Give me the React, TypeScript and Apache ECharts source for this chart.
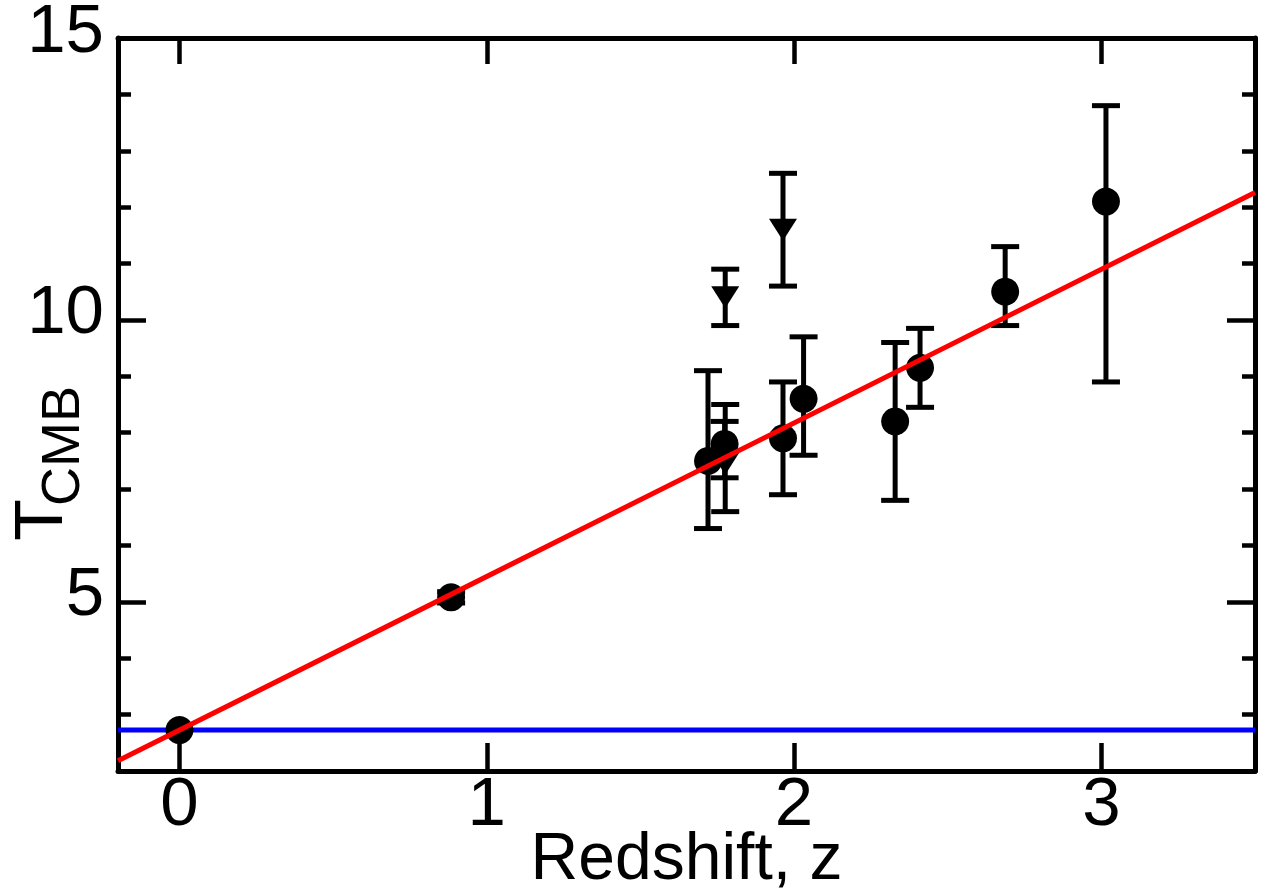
import React, { useEffect, useRef } from "react";
import * as echarts from "echarts";

// Circle points: redshift, temperature, +err, -err
const circZ = [0, 0.884, 1.72, 1.774, 1.964, 2.031, 2.329, 2.41, 2.687, 3.015];
const circT = [2.725, 5.08, 7.5, 7.8, 7.9, 8.6, 8.2, 9.15, 10.5, 12.1];
const circErrPlus = [0, 0.1, 1.6, 0.4, 1.0, 1.1, 1.4, 0.7, 0.8, 1.7];
const circErrMinus = [0, 0.1, 1.2, 0.6, 1.0, 1.0, 1.4, 0.7, 0.6, 3.2];

// Down-triangle points
const triZ = [1.776, 1.964, 1.776];
const triT = [10.4, 11.6, 7.45];
const triErrPlus = [0.5, 1.0, 1.05];
const triErrMinus = [0.5, 1.0, 0.85];

// Fit line T = T0 (1+z) endpoints, and present-day T_CMB
const fitZ = [-0.2, 3.5];
const fitT = [2.18, 12.26];
const cmbZ = [-0.2, 3.5];
const cmbT = [2.725, 2.725];

const xTicks = [0, 1, 2, 3];
const yMajor = [5, 10, 15];
const yMinor = [3, 4, 6, 7, 8, 9, 11, 12, 13, 14];

const FONT = "'Liberation Sans', Arial, sans-serif";

export default function App() {
  const ref = useRef<HTMLDivElement>(null);
  useEffect(() => {
    if (!ref.current) return;
    const chart = echarts.init(ref.current, undefined, { renderer: "svg" });

    const errData = [
      ...circZ.map((z, i) => [z, circT[i], circT[i] - circErrMinus[i], circT[i] + circErrPlus[i]]),
      ...triZ.map((z, i) => [z, triT[i], triT[i] - triErrMinus[i], triT[i] + triErrPlus[i]]),
    ].filter((d) => d[3] - d[2] > 0);

    const axisLine = { show: true, onZero: false, lineStyle: { color: "#000", width: 5 } };
    const majorTick = (len: number, vals: number[]) => ({
      show: true,
      inside: true,
      length: len,
      customValues: vals,
      lineStyle: { color: "#000", width: 4.5 },
    });

    const xBase = { type: "value", min: -0.2, max: 3.5, splitLine: { show: false } };
    const yBase = { type: "value", min: 2, max: 15, splitLine: { show: false } };

    chart.setOption({
      animation: false,
      grid: {
        left: 118,
        top: 38,
        right: 21,
        bottom: 123,
        containLabel: false,
        outerBoundsMode: "none",
      },
      xAxis: [
        {
          ...xBase,
          position: "bottom",
          axisLine,
          axisTick: majorTick(28, xTicks),
          axisLabel: {
            customValues: xTicks,
            color: "#000",
            fontSize: 69,
            fontFamily: FONT,
            margin: -4,
          },
          name: "Redshift, z",
          nameLocation: "middle",
          nameGap: 52,
          nameMoveOverlap: false,
          nameTextStyle: { color: "#000", fontSize: 66, fontFamily: FONT, verticalAlign: "top" },
        },
        {
          ...xBase,
          position: "top",
          axisLine,
          axisTick: majorTick(26, xTicks),
          axisLabel: { show: false },
        },
      ],
      yAxis: [
        {
          ...yBase,
          position: "left",
          axisLine,
          axisTick: majorTick(28, yMajor),
          axisLabel: {
            customValues: yMajor,
            color: "#000",
            fontSize: 69,
            fontFamily: FONT,
            margin: 14,
            verticalAlign: "bottom",
            lineHeight: 20,
          },
        },
        {
          ...yBase,
          position: "right",
          axisLine,
          axisTick: majorTick(28, yMajor),
          axisLabel: { show: false },
        },
        {
          ...yBase,
          position: "left",
          axisLine: { show: false, onZero: false },
          axisTick: majorTick(13, yMinor),
          axisLabel: { show: false },
        },
        {
          ...yBase,
          position: "right",
          axisLine: { show: false, onZero: false },
          axisTick: majorTick(13, yMinor),
          axisLabel: { show: false },
        },
      ],
      graphic: [
        {
          type: "text",
          x: 38,
          y: 520,
          rotation: Math.PI / 2,
          style: {
            text: "T",
            font: `68px ${FONT}`,
            fill: "#000",
            align: "center",
            verticalAlign: "middle",
          },
        },
        {
          type: "text",
          x: 60,
          y: 446,
          rotation: Math.PI / 2,
          style: {
            text: "CMB",
            font: `54px ${FONT}`,
            fill: "#000",
            align: "center",
            verticalAlign: "middle",
          },
        },
      ],
      series: [
        {
          type: "line",
          data: cmbZ.map((z, i) => [z, cmbT[i]]),
          showSymbol: false,
          symbol: "none",
          lineStyle: { color: "#0000ff", width: 5 },
          z: 1,
          silent: true,
        },
        {
          type: "custom",
          data: errData,
          encode: { x: 0, y: [1, 2, 3] },
          z: 2,
          silent: true,
          renderItem: (params: any, api: any) => {
            const x = api.value(0);
            const lo = api.value(2);
            const hi = api.value(3);
            const top = api.coord([x, hi]);
            const bot = api.coord([x, lo]);
            const hw = 14;
            const st = { stroke: "#000", lineWidth: 5 };
            return {
              type: "group",
              children: [
                { type: "line", shape: { x1: top[0], y1: top[1], x2: bot[0], y2: bot[1] }, style: st },
                { type: "line", shape: { x1: top[0] - hw, y1: top[1], x2: top[0] + hw, y2: top[1] }, style: st },
                { type: "line", shape: { x1: bot[0] - hw, y1: bot[1], x2: bot[0] + hw, y2: bot[1] }, style: st },
              ],
            };
          },
        },
        {
          type: "scatter",
          data: circZ.map((z, i) => [z, circT[i]]),
          symbol: "circle",
          symbolSize: 28,
          itemStyle: { color: "#000", opacity: 1 },
          z: 3,
          silent: true,
        },
        {
          type: "scatter",
          data: triZ.map((z, i) => [z, triT[i]]),
          symbol: "triangle",
          symbolRotate: 180,
          symbolSize: [28, 22],
          itemStyle: { color: "#000", opacity: 1 },
          z: 3,
          silent: true,
        },
        {
          type: "line",
          data: fitZ.map((z, i) => [z, fitT[i]]),
          showSymbol: false,
          symbol: "none",
          lineStyle: { color: "#ff0000", width: 5 },
          z: 4,
          silent: true,
        },
      ],
    });
    return () => chart.dispose();
  }, []);
  return (
    <div
      ref={ref}
      style={{ position: "absolute", left: 0, top: 0, width: 1276, height: 894, background: "#fff" }}
    />
  );
}
